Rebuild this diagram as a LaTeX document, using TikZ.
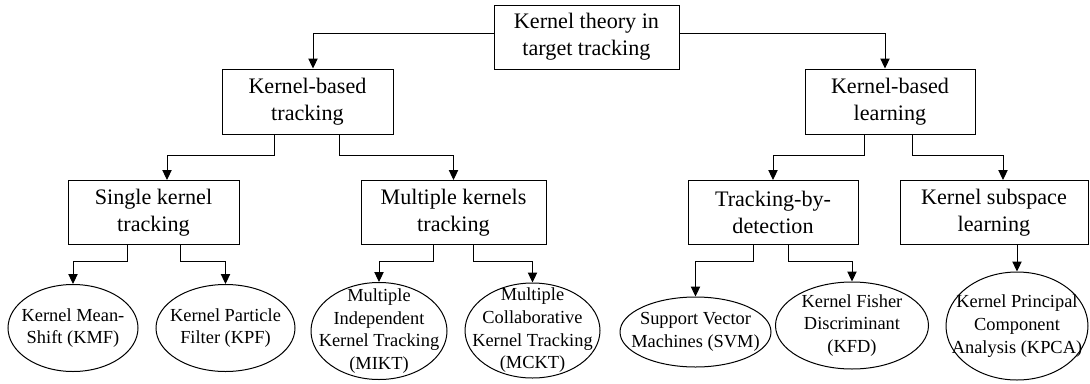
\documentclass[tikz,border=0pt]{standalone}
\usepackage{fontspec}
\setmainfont{Liberation Serif}
\usetikzlibrary{arrows.meta,shapes.geometric,calc}

\begin{document}
\begin{tikzpicture}[x=0.75pt, y=-0.75pt, line width=0.75pt,
	box/.style={draw, rectangle, align=center, inner sep=0pt, font=\fontsize{16.6}{20.5}\selectfont},
	oval/.style={draw, ellipse, align=center, inner sep=-30pt, font=\fontsize{13.8}{17}\selectfont},
	arr/.style={-{Triangle[length=7.5pt, width=7pt]}}]
	\useasboundingbox (0,0) rectangle (1090,383);

	\node [box, minimum width=138.75pt, minimum height=48pt] (root) at (586.5,37) {Kernel theory in\\target tracking};

	\node [box, minimum width=128.25pt, minimum height=48.75pt] (kbt) at (307.5,101.5) {Kernel-based\\tracking};
	\node [box, minimum width=127.5pt, minimum height=48.75pt] (kbl) at (890,101.5) {Kernel-based\\learning};

	\node [box, minimum width=128.25pt, minimum height=48pt] (sk) at (153.5,212.5) {Single kernel\\tracking};
	\node [box, minimum width=138.75pt, minimum height=48pt] (mk) at (453.5,212.5) {Multiple kernels\\tracking};
	\node [box, minimum width=127.5pt, minimum height=48pt] (tbd) at (773,212.5) {Tracking-by-\\detection};
	\node [box, minimum width=141pt, minimum height=48pt] (ksl) at (994,212.5) {Kernel subspace\\learning};

	\node [oval, minimum width=97.5pt, minimum height=65.25pt] (kmf) at (73,328) {Kernel Mean-\\Shift (KMF)};
	\node [oval, minimum width=104.25pt, minimum height=65.25pt] (kpf) at (225.5,328) {Kernel Particle\\Filter (KPF)};
	\node [oval, minimum width=102pt, minimum height=72.75pt] (mikt) at (379,331) {Multiple\\Independent\\Kernel Tracking\\(MIKT)};
	\node [oval, minimum width=101.25pt, minimum height=71.25pt] (mckt) at (532.5,330.5) {Multiple\\Collaborative\\Kernel Tracking\\(MCKT)};
	\node [oval, minimum width=113.25pt, minimum height=52.5pt] (svm) at (695.5,332) {Support Vector\\Machines (SVM)};
	\node [oval, minimum width=114.75pt, minimum height=65.25pt] (kfd) at (852,325.5) {Kernel Fisher\\Discriminant\\(KFD)};
	\node [oval, minimum width=106.5pt, minimum height=81pt] (kpca) at (1017,326) {Kernel Principal\\Component\\Analysis (KPCA)};

	\draw [arr] ($(root.west)+(0,-4)$) -| ($(kbt.north)+(5.5,0)$);
	\draw [arr] ($(root.east)+(0,-4)$) -| ($(kbl.north)+(-5,0)$);

	\draw [arr] ($(kbt.south)+(-33.5,0)$) -- ++(0,21) -| ($(sk.north)+(13.5,0)$);
	\draw [arr] ($(kbt.south)+(31.5,0)$) -- ++(0,21) -| (mk.north);
	\draw [arr] ($(kbl.south)+(-26,0)$) -- ++(0,21) -| (tbd.north);
	\draw [arr] ($(kbl.south)+(22,0)$) -- ++(0,21) -| ($(ksl.north)+(9,0)$);

	\draw [arr] ($(sk.south)+(-26.5,0)$) -- ++(0,16.5) -| (kmf.north);
	\draw [arr] ($(sk.south)+(26.5,0)$) -- ++(0,16.5) -| (kpf.north);
	\draw [arr] ($(mk.south)+(-20.5,0)$) -- ++(0,16.5) -| (mikt.north);
	\draw [arr] ($(mk.south)+(19.5,0)$) -- ++(0,16.5) -| (mckt.north);
	\draw [arr] ($(tbd.south)+(-20,0)$) -- ++(0,16.5) -| (svm.north);
	\draw [arr] ($(tbd.south)+(15,0)$) -- ++(0,16.5) -| (kfd.north);
	\draw [arr] (kpca.north |- ksl.south) -- (kpca.north);
\end{tikzpicture}
\end{document}
